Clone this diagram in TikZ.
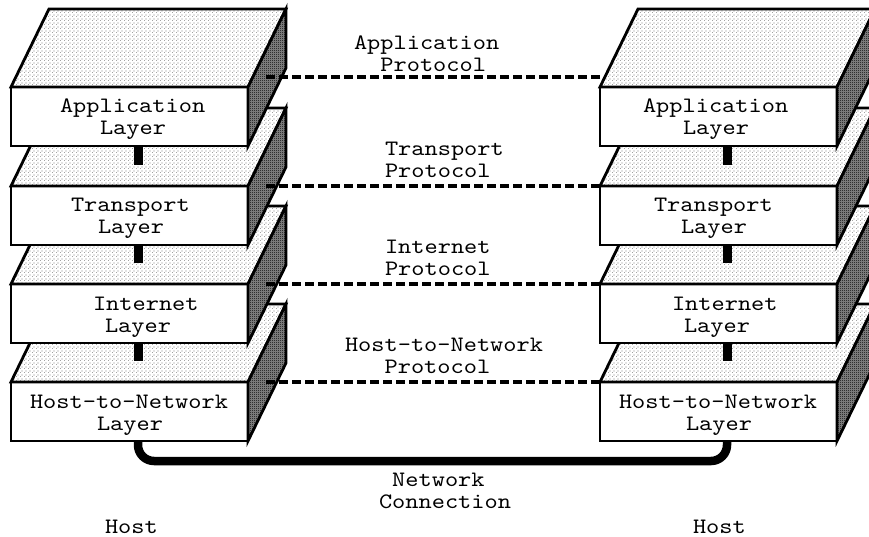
\documentclass[tikz,border=0pt]{standalone}
\usepackage{fontspec}
\newfontfamily\courierlike[FakeStretch=1.143]{lmmono10-regular.otf}
\usetikzlibrary{calc,patterns}

% stippled fills for the slab faces
\pgfdeclarepatternformonly{lightstipple}{\pgfqpoint{0pt}{0pt}}{\pgfqpoint{4pt}{4pt}}{\pgfqpoint{4pt}{4pt}}{%
  \pgfpathrectangle{\pgfqpoint{0pt}{0pt}}{\pgfqpoint{0.9pt}{0.9pt}}%
  \pgfpathrectangle{\pgfqpoint{2pt}{2pt}}{\pgfqpoint{0.9pt}{0.9pt}}%
  \pgfusepath{fill}}
\pgfdeclarepatternformonly{darkstipple}{\pgfqpoint{0pt}{0pt}}{\pgfqpoint{2pt}{2pt}}{\pgfqpoint{2pt}{2pt}}{%
  \pgfpathrectangle{\pgfqpoint{0pt}{0pt}}{\pgfqpoint{1pt}{1pt}}%
  \pgfpathrectangle{\pgfqpoint{1pt}{1pt}}{\pgfqpoint{1pt}{1pt}}%
  \pgfusepath{fill}}

% typewriter face used for every label
\newcommand{\layerfont}{\courierlike\fontsize{22}{22}\selectfont}
% two-line text filling a layer box: indent, line one, indent, line two
\newcommand{\layertext}[4]{\parbox[c][59pt][t]{237pt}{\raggedright\rule{0pt}{26pt}\hspace*{#1}#2\\\hspace*{#3}#4}}
% two-line caption whose baseline is the second line
\newcommand{\twoline}[4]{\parbox[b]{220pt}{\raggedright\hspace*{#1}#2\\\hspace*{#3}#4}}
% top and right faces of a slab whose front face is node #1
\newcommand{\slabfaces}[1]{%
  \draw[topface] (#1.north west) -- ($(#1.north west)+(38,-78)$)
    -- ($(#1.north east)+(38,-78)$) -- (#1.north east) -- cycle;
  \draw[sideface] (#1.north east) -- ($(#1.north east)+(38,-78)$)
    -- ($(#1.south east)+(38,-78)$) -- (#1.south east) -- cycle;}

\begin{document}
\begin{tikzpicture}[x=1pt,y=-1pt,
  outline/.style={draw=black, line width=2.8pt, line join=miter},
  layerbox/.style={outline, fill=white, rectangle, inner sep=0pt, outer sep=0pt,
    minimum width=237pt, minimum height=59pt, font=\layerfont},
  topface/.style={outline, preaction={fill=white}, pattern=lightstipple, pattern color=black!85},
  sideface/.style={outline, preaction={fill=black!45}, pattern=darkstipple, pattern color=black},
  linkbar/.style={draw=black, line width=9pt, line cap=butt, shorten >=21pt},
  protoline/.style={draw=black, line width=3.2pt, dash pattern=on 9pt off 4pt},
  netline/.style={draw=black, line width=8.5pt, rounded corners=16pt},
  caption/.style={inner sep=0pt, outer sep=0pt, anchor=base west, font=\layerfont}]
\useasboundingbox (0,0) rectangle (869,537);
\clip (0,0) rectangle (869,537);

% left host stack, lowest slab first
\node[layerbox] (lhost) at (129.5,411.5) {\layertext{19pt}{Host-to-Network}{86pt}{Layer}};
\slabfaces{lhost}
\node[layerbox] (lint) at (129.5,313.5) {\layertext{82pt}{Internet}{94pt}{Layer}};
\slabfaces{lint}
\node[layerbox] (ltra) at (129.5,215.5) {\layertext{60pt}{Transport}{87pt}{Layer}};
\slabfaces{ltra}
\node[layerbox] (lapp) at (129.5,116.5) {\layertext{49pt}{Application}{89pt}{Layer}};
\slabfaces{lapp}

% right host stack
\node[layerbox] (rhost) at (718.5,411.5) {\layertext{19pt}{Host-to-Network}{86pt}{Layer}};
\slabfaces{rhost}
\node[layerbox] (rint) at (718.5,313.5) {\layertext{72pt}{Internet}{84pt}{Layer}};
\slabfaces{rint}
\node[layerbox] (rtra) at (718.5,215.5) {\layertext{54pt}{Transport}{81pt}{Layer}};
\slabfaces{rtra}
\node[layerbox] (rapp) at (718.5,116.5) {\layertext{43pt}{Application}{83pt}{Layer}};
\slabfaces{rapp}

% links between adjacent layers
\foreach \s in {l,r}{
  \draw[linkbar] ([xshift=8.5pt]\s app.south) -- ([xshift=8.5pt]\s tra.north);
  \draw[linkbar] ([xshift=8.5pt]\s tra.south) -- ([xshift=8.5pt]\s int.north);
  \draw[linkbar] ([xshift=8.5pt]\s int.south) -- ([xshift=8.5pt]\s host.north);
}

% peer protocols
\coordinate (appL) at ($(lapp.north east)+(18,-10)$);
\coordinate (appR) at ($(rapp.north west)+(0,-10)$);
\coordinate (traL) at ($(ltra.north east)+(18,0)$);
\coordinate (intL) at ($(lint.north east)+(18,0)$);
\coordinate (hostL) at ($(lhost.north east)+(18,0)$);
\draw[protoline] (appL) -- (appR);
\draw[protoline] (traL) -- (rtra.north west);
\draw[protoline] (intL) -- (rint.north west);
\draw[protoline] (hostL) -- (rhost.north west);

% physical network connection
\coordinate (netmid) at (433,461);
\draw[netline] ([xshift=8.5pt]lhost.south) |- (netmid) -| ([xshift=8.5pt]rhost.south);

% captions
\node[caption] (capapp) at (354,72) {\twoline{0pt}{Application}{26.4pt}{Protocol}};
\node[caption] (captra) at (385,178) {\twoline{0pt}{Transport}{0pt}{Protocol}};
\node[caption] (capint) at (385,275) {\twoline{0pt}{Internet}{0pt}{Protocol}};
\node[caption] (caphost) at (345,373) {\twoline{0pt}{Host-to-Network}{39.6pt}{Protocol}};
\node[caption] (capnet) at (379,508) {\twoline{13.2pt}{Network}{0pt}{Connection}};
\node[caption] (hostleft) at (105,533) {Host};
\node[caption] (hostright) at (693,533) {Host};
\end{tikzpicture}
\end{document}
